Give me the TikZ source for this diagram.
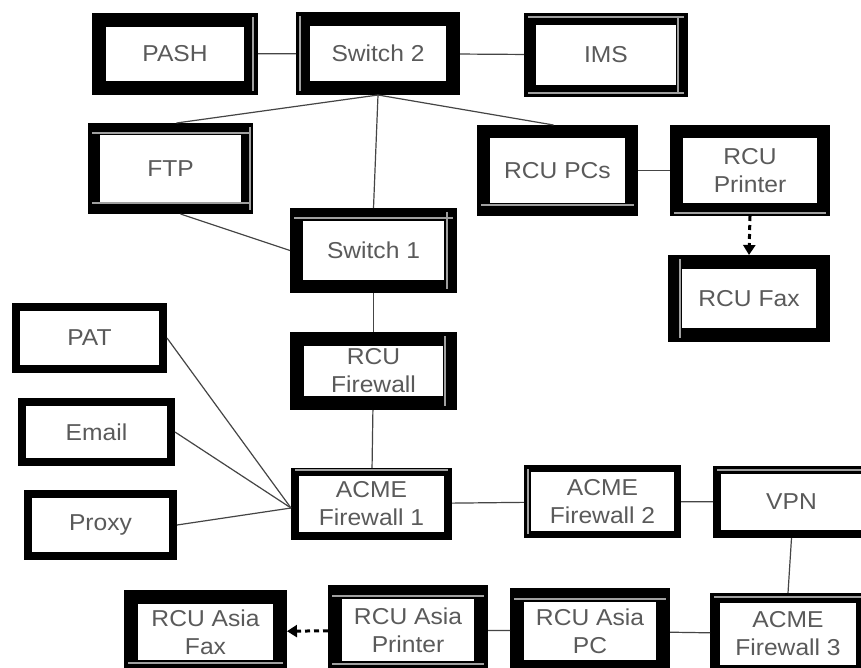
\documentclass[tikz,border=0pt]{standalone}
\usepackage{fontspec}
\setmainfont{Liberation Sans}[FakeStretch=1.07]
\usetikzlibrary{arrows.meta}
\definecolor{txt}{HTML}{5A5A5A}
\definecolor{ln}{HTML}{454545}
\definecolor{inl}{HTML}{A0A0A0}
\tikzset{
 box/.style={draw=black, fill=white, rectangle, inner sep=0pt, align=center, text=txt,
   font=\fontsize{23}{28}\selectfont},
 link/.style={draw=ln, line width=1.2pt},
 dashlink/.style={draw=black, line width=3pt, dash pattern=on 5pt off 4pt,
   -{Triangle[length=10pt,width=12pt]}},
 rule/.style={draw=inl, line width=1.6pt}
}
\newcommand\nbox[7]{\node[box, line width=#6pt, minimum width=#4pt, minimum height=#5pt] (#1) at (#2,#3) {#7};}
% grey rule inside a border: node, side (T,B,L,R), inset from outer edge
\newcommand\rtop[2]{\draw[rule] ([xshift=4pt,yshift=-#2pt]#1.north west) -- ([xshift=-4pt,yshift=-#2pt]#1.north east);}
\newcommand\rbot[2]{\draw[rule] ([xshift=4pt,yshift=#2pt]#1.south west) -- ([xshift=-4pt,yshift=#2pt]#1.south east);}
\newcommand\rlft[2]{\draw[rule] ([xshift=#2pt,yshift=-4pt]#1.north west) -- ([xshift=#2pt,yshift=4pt]#1.south west);}
\newcommand\rrgt[2]{\draw[rule] ([xshift=-#2pt,yshift=-4pt]#1.north east) -- ([xshift=-#2pt,yshift=4pt]#1.south east);}
\begin{document}
\begin{tikzpicture}[x=1pt,y=-1pt]
\useasboundingbox (0,0) rectangle (861,668);
\clip (0,0) rectangle (861,668);
\fill[white] (0,0) rectangle (861,668);
% nodes: name, cx, cy, inner width, inner height, border, text
\nbox{pash}{175}{54}{152}{68}{14}{PASH}
\nbox{sw2}{378}{53.5}{150}{69}{14}{Switch 2}
\nbox{ims}{606}{55}{152}{72}{12}{IMS}
\nbox{ftp}{170.5}{168.5}{153}{79}{12}{FTP}
\nbox{sw1}{373.5}{250.5}{154}{72}{13}{Switch 1}
\nbox{pcs}{557.5}{170.5}{148}{78}{13}{RCU PCs}
\nbox{prn}{750}{170.5}{147}{78}{13}{RCU\\Printer}
\nbox{fax}{749}{298.5}{148}{73}{14}{RCU Fax}
\nbox{pat}{89.5}{338}{147}{62}{8}{PAT}
\nbox{email}{96.5}{432}{149}{60}{8}{Email}
\nbox{proxy}{100.5}{525}{145}{62}{8}{Proxy}
\nbox{rfw}{373.5}{371}{153}{64}{14}{RCU\\Firewall}
\nbox{fwa}{371.5}{504}{153}{64}{8}{ACME\\Firewall 1}
\nbox{fwb}{602.5}{501.5}{150}{66}{7}{ACME\\Firewall 2}
\nbox{vpn}{791.5}{502}{149}{64}{8}{VPN}
\nbox{fwc}{788}{634}{146}{72}{10}{ACME\\Firewall 3}
\nbox{apc}{590}{631}{146}{72}{14}{RCU Asia\\PC}
\nbox{aprn}{408}{630}{146}{76}{14}{RCU Asia\\Printer}
\nbox{afax}{205.5}{632}{149}{70}{14}{RCU Asia\\Fax}
% thin grey rules seen inside some borders
\rrgt{pash}{5}
\rlft{sw2}{4}
\rtop{ims}{4}\rbot{ims}{4}\rrgt{ims}{10}
\rtop{ftp}{10}\rbot{ftp}{11}\rrgt{ftp}{3}
\rtop{sw1}{10}\rrgt{sw1}{10}
\rbot{pcs}{11}
\rbot{prn}{3}
\rlft{fax}{12}
\rrgt{rfw}{12}
\rtop{fwa}{2}
\rlft{fwb}{4}
\rtop{vpn}{4}
\rtop{fwc}{4}
\rtop{apc}{11}
\rtop{aprn}{11}\rbot{aprn}{11}
\rbot{afax}{11}
% connectors
\draw[link] (pash) -- (sw2);
\draw[link] (sw2) -- (ims);
\draw[link] (sw2.south) -- ([xshift=6pt]ftp.north);
\draw[link] (sw2.south) -- ([xshift=-4pt]pcs.north);
\draw[link] (sw2.south) -- (sw1.north);
\draw[link] ([xshift=10pt]ftp.south) -- (sw1.west);
\draw[link] (pcs) -- (prn);
\draw[dashlink] (prn.south) -- (fax.north);
\draw[link] (sw1) -- (rfw);
\draw[link] (rfw) -- (fwa);
\coordinate (fin) at ([yshift=-4pt]fwa.west);
\draw[link] (pat.east) -- (fin);
\draw[link] (email.east) -- (fin);
\draw[link] (proxy.east) -- (fin);
\draw[link] (fwa) -- (fwb);
\draw[link] (fwb) -- (vpn);
\draw[link] (vpn.south) -- (fwc.north);
\draw[link] (fwc) -- (apc);
\draw[link] (apc) -- (aprn);
\draw[dashlink] (aprn) -- (afax);
\end{tikzpicture}
\end{document}
